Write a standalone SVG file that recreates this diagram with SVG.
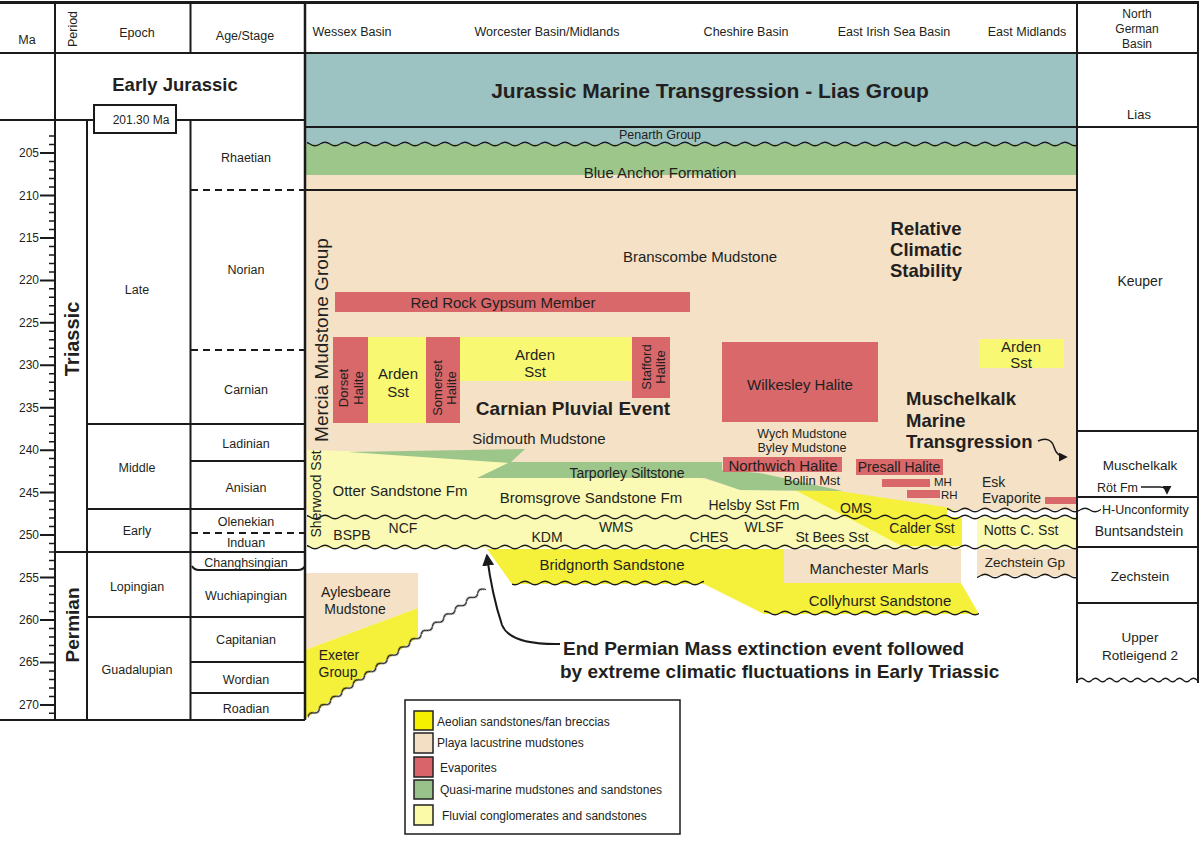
<svg xmlns="http://www.w3.org/2000/svg" width="1202" height="842" viewBox="0 0 1202 842">
<style>
text{font-family:"Liberation Sans",Arial,Helvetica,sans-serif;fill:#231f20;text-anchor:middle;dominant-baseline:central}
.s11{font-size:11px}.s12{font-size:12px}.s125{font-size:12.5px}.s13{font-size:13px}.s135{font-size:13.5px}.s14{font-size:14px}.s15{font-size:15px}.s17{font-size:17px}.s18{font-size:18.5px}.s19{font-size:19px}
.b{font-weight:bold}
.la{text-anchor:start}
.ra{text-anchor:end}
.ln{stroke:#1a1a1a;stroke-width:2;fill:none}
.thin{stroke:#1a1a1a;stroke-width:1.5;fill:none}
.dash{stroke:#1a1a1a;stroke-width:2;stroke-dasharray:7,5;fill:none}
.tan{fill:#f4e1c6}.red{fill:#d9686b}.pale{fill:#fafab4}.bright{fill:#f5f03a}.arden{fill:#f8f873}.green{fill:#9dc68b}.teal{fill:#9cc2c2}
.wave{fill:url(#wave)}
.wave2{fill:url(#wave2)}
.sw{stroke:#222;stroke-width:1.5}
</style>
<defs>
<pattern id="wave" width="20" height="10" patternUnits="userSpaceOnUse"><path d="M0,5 Q5,1.5 10,5 T20,5" fill="none" stroke="#1a1a1a" stroke-width="1.4"/></pattern>
<pattern id="wave2" width="14" height="10" patternUnits="userSpaceOnUse"><path d="M0,5 Q3.5,1.5 7,5 T14,5" fill="none" stroke="#1a1a1a" stroke-width="1.3"/></pattern>
<marker id="ah" viewBox="0 0 10 10" refX="8" refY="5" markerWidth="6" markerHeight="6" orient="auto"><path d="M0,0 L10,5 L0,10 z" fill="#1a1a1a"/></marker>
</defs>
<rect width="1202" height="842" fill="#fff"/>

<!-- Main basin fills -->
<g id="fills">
<rect class="teal" x="305" y="53" width="772" height="93"/>
<rect class="green" x="305" y="144" width="772" height="31"/>
<rect class="tan" x="305" y="175" width="772" height="335"/>
<polygon class="pale" points="307,450 348,451 500,462 700,478 745,490 800,491 962,548 307,548"/>
<polygon class="bright" points="795,490 832,490 945,507 962,512 962,546 902,546"/>
<polygon class="green" points="348,452 525,449 510,463"/>
<polygon class="green" points="477,478 510,462 722,462 722,478"/>
<polygon class="green" points="705,478 722,470 760,473 843,491 740,490"/>
<rect x="947" y="510" width="130" height="7" fill="#fff"/>
<rect x="962" y="510" width="15" height="38" fill="#fff"/>
<rect class="pale" x="977" y="517" width="100" height="31"/>
<rect class="tan" x="977" y="549" width="100" height="27"/>
<polygon class="bright" points="487,549 961,549 961,583 979,614 764,614 704,584 512,584"/>
<rect class="tan" x="784" y="549" width="177" height="34"/>
<polygon class="tan" points="305,573 418,573 418,608 305,650"/>
<polygon class="bright" points="305,650 418,608 418,637 308,717 305,719"/>
</g>

<g id="evaporites">
<rect class="red" x="335" y="292" width="355" height="20"/>
<rect class="red" x="333" y="337" width="35" height="86"/>
<rect class="arden" x="368" y="337" width="58" height="86"/>
<rect class="red" x="426" y="337" width="34" height="86"/>
<rect class="arden" x="460" y="337" width="172" height="44"/>
<rect class="red" x="632" y="337" width="38" height="61"/>
<rect class="red" x="722" y="342" width="156" height="80"/>
<rect class="arden" x="979" y="339" width="85" height="29"/>
<rect class="red" x="723" y="457" width="119" height="15"/>
<rect class="red" x="856" y="459" width="87" height="16"/>
<rect class="red" x="882" y="479" width="48" height="8"/>
<rect class="red" x="907" y="490" width="33" height="8"/>
<rect class="red" x="1045" y="497" width="32" height="7"/>
</g>

<!-- Frame lines -->
<g id="frame">
<path d="M0,2.5H1199" stroke="#1a1a1a" stroke-width="3"/>
<path class="ln" d="M0,53H1198"/>
<path class="ln" d="M55,2V720 M190.5,2V53 M190.5,120V720 M87,120V720"/>
<path d="M305,2V720" stroke="#1a1a1a" stroke-width="2.5"/>
<path class="ln" d="M0,120H305 M305,127H1198 M305,190H1077"/>
<path class="dash" d="M191,190H305 M191,350H305 M191,533H305"/>
<path class="ln" d="M87,424H305 M191,461H305 M87,509H305 M55,552H305 M87,617H305 M191,662H305 M191,693H305 M0,720H305"/>
<path class="ln" d="M192,566 q2,4 7,4 H298 q5,0 7,-4"/>
<path class="ln" d="M1077,2V683 M1198,2V683"/>
<path class="ln" d="M1077,431H1198 M1077,497H1198 M1077,547H1198 M1077,603H1198"/>
</g>

<!-- Ma axis ticks -->
<g id="axis">
<path class="thin" d="M49,136H55 M49,144.5H55 M49,161.5H55 M49,170H55 M49,178.5H55 M49,187H55 M49,204H55 M49,212.4H55 M49,220.9H55 M49,229.4H55 M49,246.4H55 M49,254.9H55 M49,263.4H55 M49,271.9H55 M49,288.8H55 M49,297.3H55 M49,305.8H55 M49,314.3H55 M49,331.3H55 M49,339.8H55 M49,348.3H55 M49,356.8H55 M49,373.7H55 M49,382.2H55 M49,390.7H55 M49,399.2H55 M49,416.2H55 M49,424.7H55 M49,433.2H55 M49,441.7H55 M49,458.6H55 M49,467.1H55 M49,475.6H55 M49,484.1H55 M49,501.1H55 M49,509.6H55 M49,518.1H55 M49,526.6H55 M49,543.5H55 M49,552H55 M49,560.5H55 M49,569H55 M49,586H55 M49,594.5H55 M49,603H55 M49,611.5H55 M49,628.4H55 M49,636.9H55 M49,645.4H55 M49,653.9H55 M49,670.9H55 M49,679.4H55 M49,687.9H55 M49,696.4H55 M49,713.3H55"/>
<path class="ln" d="M40,153H55 M40,195.5H55 M40,237.9H55 M40,280.4H55 M40,322.8H55 M40,365.3H55 M40,407.7H55 M40,450.2H55 M40,492.6H55 M40,535.1H55 M40,577.5H55 M40,620H55 M40,662.4H55 M40,704.9H55"/>
<g class="s12">
<text class="ra" x="39" y="153">205</text>
<text class="ra" x="39" y="195.5">210</text>
<text class="ra" x="39" y="237.9">215</text>
<text class="ra" x="39" y="280.4">220</text>
<text class="ra" x="39" y="322.8">225</text>
<text class="ra" x="39" y="365.3">230</text>
<text class="ra" x="39" y="407.7">235</text>
<text class="ra" x="39" y="450.2">240</text>
<text class="ra" x="39" y="492.6">245</text>
<text class="ra" x="39" y="535.1">250</text>
<text class="ra" x="39" y="577.5">255</text>
<text class="ra" x="39" y="620">260</text>
<text class="ra" x="39" y="662.4">265</text>
<text class="ra" x="39" y="704.9">270</text>
</g>
</g>

<!-- Time scale labels -->
<g id="timescale">
<text class="s125" x="27" y="40">Ma</text>
<text class="s125" transform="translate(73,29) rotate(-90)">Period</text>
<text class="s125" x="137" y="33">Epoch</text>
<text class="s125" x="245" y="36">Age/Stage</text>
<text class="s18 b" x="175" y="84">Early Jurassic</text>
<rect x="94" y="105" width="82" height="28" fill="#fff" stroke="#1a1a1a" stroke-width="2"/>
<text class="s12" x="141" y="120">201.30 Ma</text>
<text class="b" style="font-size:20px" transform="translate(72,339) rotate(-90)">Triassic</text>
<text class="s19 b" transform="translate(72,625) rotate(-90)">Permian</text>
<g class="s125">
<text x="137" y="290">Late</text>
<text x="137" y="468">Middle</text>
<text x="137" y="531">Early</text>
<text x="137" y="587">Lopingian</text>
<text x="137" y="670">Guadalupian</text>
<text x="246" y="158">Rhaetian</text>
<text x="246" y="270">Norian</text>
<text x="246" y="390">Carnian</text>
<text x="246" y="444">Ladinian</text>
<text x="246" y="488">Anisian</text>
<text x="246" y="522">Olenekian</text>
<text x="246" y="543">Induan</text>
<text x="246" y="563">Changhsingian</text>
<text x="246" y="596">Wuchiapingian</text>
<text x="246" y="640">Capitanian</text>
<text x="246" y="680">Wordian</text>
<text x="246" y="709">Roadian</text>
</g>
</g>

<!-- Unconformities (wavy lines) and arrows -->
<g id="connectors">
<rect class="wave" x="307" y="0" width="770" height="10" transform="translate(0,139)"/>
<rect class="wave" x="947" y="0" width="154" height="10" transform="translate(0,505)"/>
<rect class="wave" x="307" y="0" width="770" height="10" transform="translate(0,512)"/>
<rect class="wave" x="307" y="0" width="770" height="10" transform="translate(0,542)"/>
<rect class="wave" x="512" y="0" width="192" height="10" transform="translate(0,578)"/>
<rect class="wave" x="764" y="0" width="215" height="10" transform="translate(0,608)"/>
<rect class="wave" x="977" y="0" width="100" height="10" transform="translate(0,571)"/>
<rect class="wave2" x="0" y="0" width="219" height="10" transform="translate(308,717) rotate(-36.1) translate(0,-5)"/>
<rect class="wave2" x="1077" y="0" width="121" height="10" transform="translate(0,675)"/>
<path d="M1038,441 C1046,437 1052,440 1054,447 C1056,454 1060,457 1066,457" fill="none" stroke="#1a1a1a" stroke-width="1.5" marker-end="url(#ah)"/>
<path d="M1141,487 H1160 Q1167,487 1167,493" fill="none" stroke="#1a1a1a" stroke-width="1.5" marker-end="url(#ah)"/>
<path d="M560,644 Q510,645 502,625 Q492,595 487,556" fill="none" stroke="#1a1a1a" stroke-width="2" marker-end="url(#ah)"/>
</g>

<!-- Main area labels -->
<g id="labels">
<g class="s125">
<text x="352" y="32">Wessex Basin</text>
<text x="547" y="32">Worcester Basin/Midlands</text>
<text x="746" y="32">Cheshire Basin</text>
<text x="894" y="32">East Irish Sea Basin</text>
<text x="1027" y="32">East Midlands</text>
</g>
<text class="b" style="font-size:21px" x="710" y="90">Jurassic Marine Transgression - Lias Group</text>
<text class="s125" x="660" y="135">Penarth Group</text>
<text class="s15" x="660" y="172">Blue Anchor Formation</text>
<text class="s15" x="700" y="256">Branscombe Mudstone</text>
<text class="s18 b" x="926" y="228">Relative</text>
<text class="s18 b" x="926" y="249">Climatic</text>
<text class="s18 b" x="926" y="270">Stability</text>
<text class="s19" transform="translate(321,340) rotate(-90)">Mercia Mudstone Group</text>
<text class="s15" x="503" y="302">Red Rock Gypsum Member</text>
<text class="s13" transform="translate(343,388) rotate(-90)">Dorset</text>
<text class="s13" transform="translate(358,388) rotate(-90)">Halite</text>
<text class="s15" x="398" y="373">Arden</text>
<text class="s15" x="398" y="391">Sst</text>
<text class="s13" transform="translate(437,388) rotate(-90)">Somerset</text>
<text class="s13" transform="translate(451,388) rotate(-90)">Halite</text>
<text class="s15" x="535" y="354">Arden</text>
<text class="s15" x="535" y="371">Sst</text>
<text class="s13" transform="translate(646,367) rotate(-90)">Stafford</text>
<text class="s13" transform="translate(660,367) rotate(-90)">Halite</text>
<text class="s19 b" x="573" y="408">Carnian Pluvial Event</text>
<text class="s15" x="800" y="384">Wilkesley Halite</text>
<text class="s15" x="1021" y="346">Arden</text>
<text class="s15" x="1021" y="362">Sst</text>
<text class="s18 b la" x="906" y="398">Muschelkalk</text>
<text class="s18 b la" x="906" y="420">Marine</text>
<text class="s18 b la" x="906" y="441">Transgression</text>
<text class="s15" x="539" y="438">Sidmouth Mudstone</text>
<text class="s125" x="802" y="434">Wych Mudstone</text>
<text class="s125" x="802" y="448">Byley Mudstone</text>
<text class="s15" x="783" y="465">Northwich Halite</text>
<text class="s14" x="899" y="467">Presall Halite</text>
<text class="s13" x="812" y="480">Bollin Mst</text>
<text class="la" style="font-size:11.5px" x="934" y="482">MH</text>
<text class="la" style="font-size:11.5px" x="941" y="495">RH</text>
<text class="s14 la" x="982" y="482">Esk</text>
<text class="s14 la" x="982" y="498">Evaporite</text>
<text class="s14" x="627" y="473">Tarporley Siltstone</text>
<text class="s14" transform="translate(316,494) rotate(-90)">Sherwood Sst</text>
<text class="s15" x="400" y="490">Otter Sandstone Fm</text>
<text class="s15" x="591" y="497">Bromsgrove Sandstone Fm</text>
<text class="s14" x="754" y="505">Helsby Sst Fm</text>
<text class="s14" x="856" y="508">OMS</text>
<text class="s14" x="922" y="528">Calder Sst</text>
<text class="s14" x="1021" y="530">Notts C. Sst</text>
<text class="s14" x="352" y="535">BSPB</text>
<text class="s14" x="403" y="528">NCF</text>
<text class="s14" x="547" y="537">KDM</text>
<text class="s14" x="616" y="527">WMS</text>
<text class="s14" x="709" y="537">CHES</text>
<text class="s14" x="764" y="527">WLSF</text>
<text class="s14" x="832" y="537">St Bees Sst</text>
<text class="s135" x="1025" y="562">Zechstein Gp</text>
<text class="s15" x="612" y="564">Bridgnorth Sandstone</text>
<text class="s15" x="869" y="568">Manchester Marls</text>
<text class="s15" x="880" y="600">Collyhurst Sandstone</text>
<text class="s14" x="356" y="592">Aylesbeare</text>
<text class="s14" x="355" y="609">Mudstone</text>
<text class="s14" x="339" y="655">Exeter</text>
<text class="s14" x="338" y="672">Group</text>
<text class="s19 b la" x="563" y="648">End Permian Mass extinction event followed</text>
<text class="s19 b la" x="560" y="671">by extreme climatic fluctuations in Early Triassic</text>
</g>

<!-- North German Basin column -->
<g id="ngb">
<text class="s12" x="1137" y="14">North</text>
<text class="s12" x="1137" y="29">German</text>
<text class="s12" x="1137" y="44">Basin</text>
<text class="s13" x="1139" y="114">Lias</text>
<text class="s14" x="1140" y="281">Keuper</text>
<text class="s135" x="1140" y="465">Muschelkalk</text>
<text class="s125 la" x="1097" y="488">Röt Fm</text>
<text class="s125 la" x="1102" y="510">H-Unconformity</text>
<text class="s14" x="1139" y="531">Buntsandstein</text>
<text class="s135" x="1140" y="576">Zechstein</text>
<text class="s135" x="1140" y="637">Upper</text>
<text class="s135" x="1140" y="655">Rotleigend 2</text>
</g>

<!-- Legend -->
<g id="legend">
<rect x="405" y="700" width="275" height="134" fill="#fff" stroke="#1a1a1a" stroke-width="1.5"/>
<rect class="sw" x="414" y="711" width="19" height="19" fill="#f5f000"/>
<rect class="sw" x="414" y="733" width="19" height="20" fill="#f3dfc4"/>
<rect class="sw" x="414" y="757" width="19" height="20" fill="#d9656a"/>
<rect class="sw" x="414" y="780" width="19" height="19" fill="#98c28a"/>
<rect class="sw" x="414" y="805" width="19" height="20" fill="#fafaa8"/>
<text class="s12 la" x="437" y="722">Aeolian sandstones/fan breccias</text>
<text class="s12 la" x="437" y="743">Playa lacustrine mudstones</text>
<text class="s12 la" x="440" y="768">Evaporites</text>
<text class="s12 la" x="440" y="790">Quasi-marine mudstones and sandstones</text>
<text class="s12 la" x="442" y="816">Fluvial conglomerates and sandstones</text>
</g>
</svg>
